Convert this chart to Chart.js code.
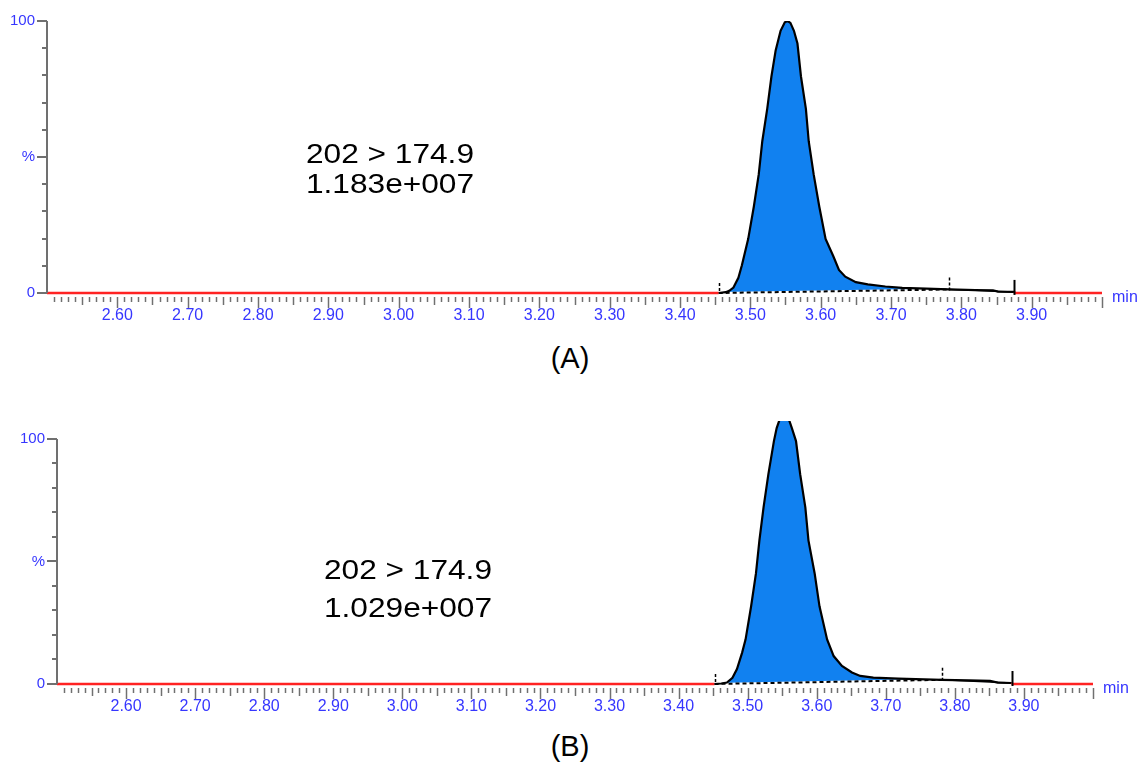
<!DOCTYPE html>
<html>
<head>
<meta charset="utf-8">
<script src="https://cdn.jsdelivr.net/npm/chart.js@4.4.1/dist/chart.umd.min.js"></script>
<style>
  body { margin: 0; background: #fff; width: 1146px; height: 763px; position: relative; overflow: hidden;
         font-family: 'Liberation Sans', Arial, sans-serif; }
  .panel { position: absolute; left: 0; }
  .lbl { position: absolute; width: 300px; text-align: center; color: #000; white-space: nowrap; }
  .big { font-size: 28px; line-height: 28px; transform: scaleX(1.13); }
  .tag { font-size: 29px; line-height: 29px; }
</style>
</head>
<body>
<div class="panel" style="top:0"><canvas id="chartA" width="1146" height="335"></canvas></div>
<div class="panel" style="top:400px"><canvas id="chartB" width="1146" height="325"></canvas></div>

<div class="lbl big" style="left:240px;top:140px">202 &gt; 174.9</div>
<div class="lbl big" style="left:240px;top:170px">1.183e+007</div>
<div class="lbl tag" style="left:420px;top:344px">(A)</div>

<div class="lbl big" style="left:258px;top:556px">202 &gt; 174.9</div>
<div class="lbl big" style="left:258px;top:594px">1.029e+007</div>
<div class="lbl tag" style="left:420px;top:732px">(B)</div>

<script>
// retention time (min) and relative intensity (%)
const timesA = [2.500, 3.455, 3.465, 3.470, 3.476, 3.483, 3.488, 3.497, 3.505, 3.512,
                3.517, 3.524, 3.530, 3.536, 3.543, 3.549, 3.553, 3.557, 3.562, 3.567,
                3.572, 3.579, 3.583, 3.590, 3.598, 3.607, 3.618, 3.626, 3.635, 3.650,
                3.667, 3.692, 3.716, 3.750, 3.782, 3.820, 3.845, 3.852, 3.875, 3.877, 4.000];
const valuesA = [0, 0, 0.3, 0.8, 2.0, 5.6, 10.2, 19.9, 31.8, 43.7,
                 55.8, 67.7, 79.6, 89.2, 96.4, 99.5, 100, 99.3, 96.4, 91.7,
                 79.6, 67.7, 55.8, 43.7, 31.8, 19.9, 13.5, 8.5, 6.0, 4.0,
                 3.2, 2.4, 1.9, 1.6, 1.3, 1.1, 1.0, 0.5, 0.4, 0, 0];

const timesB = [2.500, 3.452, 3.462, 3.470, 3.478, 3.4845, 3.492, 3.497, 3.505, 3.512,
                3.517, 3.523, 3.530, 3.538, 3.542, 3.547, 3.553, 3.559, 3.564, 3.570,
                3.576, 3.5835, 3.588, 3.597, 3.604, 3.615, 3.6245, 3.6365, 3.651, 3.663,
                3.682, 3.718, 3.781, 3.820, 3.851, 3.862, 3.882, 3.884, 4.000];
const valuesB = [0, 0, 0.2, 0.6, 2.5, 6.1, 12.8, 18.2, 31.7, 45.1,
                 58.6, 72.1, 85.6, 99.1, 104.4, 108.5, 110, 108.5, 104.4, 99.1,
                 85.6, 72.1, 58.6, 45.1, 31.7, 18.2, 11.4, 7.4, 4.7, 3.3,
                 2.6, 2.2, 1.7, 1.5, 1.3, 0.6, 0.4, 0, 0];

// integration markers: start, split, end
const marksA = [3.455, 3.782, 3.875];
const marksB = [3.452, 3.781, 3.882];

const xTickLabels = ['2.60', '2.70', '2.80', '2.90', '3.00', '3.10', '3.20',
                     '3.30', '3.40', '3.50', '3.60', '3.70', '3.80', '3.90'];
const yTickValues = [0, 50, 100];
const yTickLabels = ['0', '%', '100'];

const RED = '#ff2222';
const BLUE = '#1181f0';
const AXIS_BLUE = '#3636ff';
const GREY = '#707070';

// extra axis ticks, y axis line, integration markers and the "min" unit
const axisDecor = {
    id: 'axisDecor',
    afterDraw(chart, args, opts) {
        const { ctx, chartArea: a } = chart;
        const x = chart.scales.x, y = chart.scales.y;
        ctx.save();
        ctx.strokeStyle = GREY;
        ctx.lineWidth = 1.5;
        for (let i = 1; i <= 150; i++) {
            const px = Math.round(x.getPixelForValue(2.5 + i / 100)) + 0.5;
            const len = i % 10 === 0 ? 11 : (i % 5 === 0 ? 8 : 5);
            ctx.beginPath();
            ctx.moveTo(px, a.bottom + 4);
            ctx.lineTo(px, a.bottom + 4 + len);
            ctx.stroke();
        }
        ctx.lineWidth = 2;
        for (let v = 0; v <= 100; v += 10) {
            const py = Math.round(y.getPixelForValue(v));
            const len = v % 50 === 0 ? 10 : 5;
            ctx.beginPath();
            ctx.moveTo(a.left - len, py);
            ctx.lineTo(a.left, py);
            ctx.stroke();
        }
        ctx.beginPath();
        ctx.moveTo(a.left, y.getPixelForValue(100));
        ctx.lineTo(a.left, y.getPixelForValue(0));
        ctx.stroke();

        // integration markers
        ctx.strokeStyle = '#000';
        opts.marks.forEach((m, i) => {
            const px = Math.round(x.getPixelForValue(m.t)) + 0.5;
            const py = y.getPixelForValue(m.v);
            ctx.lineWidth = i === 2 ? 2 : 1.5;
            ctx.setLineDash(i === 2 ? [] : [3, 2]);
            ctx.beginPath();
            ctx.moveTo(px, py - (i === 0 ? 10 : 12));
            ctx.lineTo(px, py + (i === 0 ? -2 : 3));
            ctx.stroke();
        });
        ctx.setLineDash([]);

        ctx.fillStyle = AXIS_BLUE;
        ctx.font = '16px "Liberation Sans", Arial, sans-serif';
        ctx.textBaseline = 'alphabetic';
        ctx.fillText('min', a.right + 10, a.bottom + 9);
        ctx.restore();
    }
};

function buildDatasets(times, values, marks) {
    const pts = times.map((t, i) => ({ x: t, y: values[i] }));
    const at = t => pts.find(p => p.x === t).y;
    const [t0, t1, t2] = marks;
    const base1 = [{ x: t0, y: at(t0) }, { x: t1, y: at(t1) }];
    const base2 = [{ x: t1, y: at(t1) }, { x: t2, y: at(t2) }];
    const area1 = pts.filter(p => p.x >= t0 && p.x <= t1);
    const area2 = pts.filter(p => p.x >= t1 && p.x <= t2);
    const clip = { left: 2, right: 2, top: 0, bottom: 5 };
    return [
        {   // the trace itself, red where not integrated
            data: pts, borderWidth: 2.2, borderColor: '#000', fill: false, clip,
            segment: {
                borderColor: c => (c.p1.parsed.x <= t0 || c.p0.parsed.x >= t2) ? RED : '#000',
                borderWidth: c => (c.p1.parsed.x <= t0 || c.p0.parsed.x >= t2) ? 2.5 : 2.2
            }
        },
        { data: base1, borderColor: '#000', borderWidth: 2, borderDash: [4, 3], fill: false, clip },
        { data: base2, borderColor: '#000', borderWidth: 1.5, fill: false, clip },
        { data: base1, borderColor: '#fff', borderWidth: 2, fill: false, clip },
        { data: area1, borderColor: 'rgba(0,0,0,0)', borderWidth: 1, backgroundColor: BLUE, fill: 1, clip },
        { data: area2, borderColor: 'rgba(0,0,0,0)', borderWidth: 1, backgroundColor: BLUE, fill: 2, clip }
    ];
}

function makeChart(id, times, values, marks, box) {
    const at = t => values[times.indexOf(t)];
    new Chart(document.getElementById(id), {
        type: 'line',
        data: { datasets: buildDatasets(times, values, marks) },
        plugins: [axisDecor],
        options: {
            responsive: false,
            animation: false,
            events: [],
            elements: { point: { radius: 0 }, line: { tension: 0 } },
            layout: { padding: { left: 0, right: box.right, top: box.top, bottom: 0 } },
            plugins: {
                legend: { display: false },
                tooltip: { enabled: false },
                axisDecor: { marks: marks.map(t => ({ t, v: at(t) })) }
            },
            scales: {
                x: {
                    type: 'linear', min: 2.5, max: 4.0,
                    grid: { display: false, drawTicks: false },
                    border: { display: false },
                    afterBuildTicks: s => { s.ticks = xTickLabels.map(l => ({ value: parseFloat(l) })); },
                    afterFit: s => { s.height = box.xHeight; },
                    ticks: {
                        autoSkip: false, maxRotation: 0, padding: 13, color: AXIS_BLUE,
                        font: { family: '"Liberation Sans", Arial, sans-serif', size: 16 },
                        callback: (v, i) => xTickLabels[i]
                    }
                },
                y: {
                    min: 0, max: box.yMax,
                    grid: { display: false, drawTicks: false },
                    border: { display: false },
                    afterBuildTicks: s => { s.ticks = yTickValues.map(v => ({ value: v })); },
                    afterFit: s => { s.width = box.left; },
                    ticks: {
                        padding: 12, color: AXIS_BLUE,
                        font: { family: '"Liberation Sans", Arial, sans-serif', size: 15 },
                        callback: (v, i) => yTickLabels[i]
                    }
                }
            }
        }
    });
}

makeChart('chartA', timesA, valuesA, marksA, { left: 47, right: 44, top: 15, xHeight: 42, yMax: 100 });
makeChart('chartB', timesB, valuesB, marksB, { left: 57, right: 53, top: 18, xHeight: 41, yMax: 107.3 });
</script>
</body>
</html>
